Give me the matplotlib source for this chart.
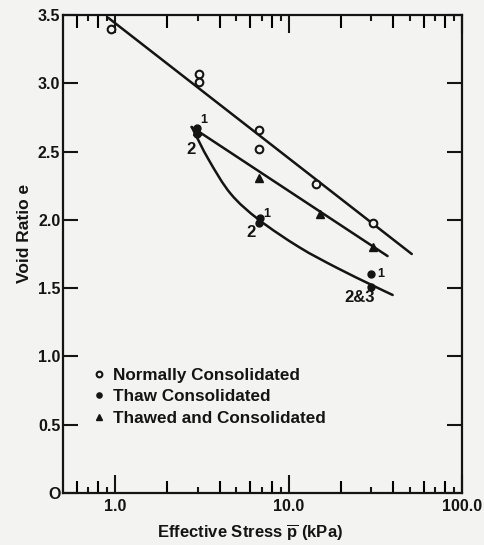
import matplotlib
matplotlib.use('Agg')
import matplotlib.pyplot as plt
import numpy as np
from matplotlib.path import Path
from matplotlib.patches import PathPatch

# values
# normally consolidated (open circles)
nc_stress = [0.95, 3.03, 3.03, 6.75, 6.75, 14.4, 30.5]
nc_void = [3.40, 3.07, 3.01, 2.66, 2.52, 2.26, 1.98]
# thaw consolidated (filled circles)
tc_stress = [2.95, 2.95, 6.8, 6.75, 29.7, 29.7]
tc_void = [2.67, 2.63, 2.01, 1.98, 1.60, 1.51]
tc_tags = ['1', '2', '1', '2', '1', '2&3']
# thawed and consolidated (triangles)
tac_stress = [2.95, 6.75, 15.2, 30.5]
tac_void = [2.65, 2.31, 2.04, 1.80]

# drawn trend lines
nc_line_x = [0.91, 51.3]
nc_line_y = [3.48, 1.75]
tac_line_x = [2.76, 37.2]
tac_line_y = [2.68, 1.735]
tc_curve_x = [2.76, 3.46, 4.64, 6.75, 11.5, 18.9, 30.5, 39.8]
tc_curve_y = [2.68, 2.44, 2.19, 2.00, 1.80, 1.65, 1.52, 1.45]

major_x = [1, 10, 100]
long_minor = [0.6, 0.8, 2, 4, 6, 8, 20, 40, 60, 80]
short_minor = [0.7, 0.9, 3, 5, 7, 9, 30, 50, 70, 90]
y_ticks = [0, 0.5, 1.0, 1.5, 2.0, 2.5, 3.0, 3.5]
y_labels = ['O', '0.5', '1.0', '1.5', '2.0', '2.5', '3.0', '3.5']

ink = '#141414'
paper = '#f3f3f1'
plt.rcParams['font.family'] = ['Liberation Sans', 'DejaVu Sans']
plt.rcParams['font.weight'] = 'bold'
plt.rcParams['mathtext.fontset'] = 'custom'
plt.rcParams['mathtext.bf'] = 'Liberation Sans:bold'
plt.rcParams['mathtext.rm'] = 'Liberation Sans:bold'


def smooth_path(xs, ys):
    # catmull-rom through the read points, done in log-x space, as bezier segments
    lx = np.log10(xs)
    y = np.asarray(ys, float)
    pts = np.column_stack([lx, y])
    pts = np.vstack([2 * pts[0] - pts[1], pts, 2 * pts[-1] - pts[-2]])
    verts = [pts[1]]
    codes = [Path.MOVETO]
    for i in range(1, len(pts) - 2):
        p0, p1, p2, p3 = pts[i - 1], pts[i], pts[i + 1], pts[i + 2]
        verts += [p1 + (p2 - p0) / 6, p2 - (p3 - p1) / 6, p2]
        codes += [Path.CURVE4] * 3
    verts = np.array(verts)
    verts[:, 0] = 10 ** verts[:, 0]
    return Path(verts, codes)


fig = plt.figure(figsize=(4.85, 5.45), dpi=100, facecolor=paper)
ax = fig.add_axes([0.130, 0.0954, 0.8226, 0.8771], facecolor=paper)
ax.set_xscale('log')
ax.set_xlim(0.5, 100)
ax.set_ylim(0, 3.5)

lw = 1.8
ax.plot(nc_line_x, nc_line_y, color=ink, lw=lw, solid_capstyle='round')
ax.plot(tac_line_x, tac_line_y, color=ink, lw=lw, solid_capstyle='round')
ax.add_patch(PathPatch(smooth_path(tc_curve_x, tc_curve_y), fc='none', ec=ink, lw=lw,
                       capstyle='round', joinstyle='round', transform=ax.transData))

ax.plot(nc_stress, nc_void, 'o', ms=5.5, mfc=paper, mec=ink, mew=1.5, ls='none',
        label='Normally Consolidated')
ax.plot(tc_stress, tc_void, 'o', ms=5, mfc=ink, mec=ink, ls='none',
        label='Thaw Consolidated')
ax.plot(tac_stress, tac_void, '^', ms=6, mfc=ink, mec=ink, ls='none',
        label='Thawed and Consolidated')

offsets = [(5, 6), (-4, -11), (5, 3), (-6, -7), (7, 0), (-8, -8)]
for x, y, t, off in zip(tc_stress, tc_void, tc_tags, offsets):
    fs = 9 if t == '1' else 12
    ax.annotate(t, (x, y), xytext=off, textcoords='offset points',
                ha='center', va='center', fontsize=fs, color=ink)

ax.set_xticks(major_x)
ax.set_xticklabels(['1.0', '10.0', '100.0'])
ax.set_xticks(long_minor, minor=True)
ax.set_xticklabels([], minor=True)
ax.set_yticks(y_ticks)
ax.set_yticklabels(y_labels)
ax.tick_params(axis='x', which='major', direction='in', top=True, length=13, width=1.5,
               pad=4, labelsize=11.5, colors=ink)
ax.tick_params(axis='x', which='minor', direction='in', top=True, length=9, width=1.5)
ax.tick_params(axis='y', direction='in', right=True, length=11, width=1.5, pad=2,
               labelsize=11.5, colors=ink)

for side in ['bottom', 'top']:
    sec = ax.secondary_xaxis(side)
    sec.set_xticks(short_minor)
    sec.set_xticklabels([])
    sec.set_xticks([], minor=True)
    sec.tick_params(direction='in', length=4, width=1.5, colors=ink)
    for s in sec.spines.values():
        s.set_visible(False)

for s in ax.spines.values():
    s.set_linewidth(1.6)
    s.set_color(ink)

ax.set_xlabel('Effective Stress $\\overline{\\mathbf{p}}$ (kPa)', fontsize=12,
              fontweight='bold', color=ink)
ax.xaxis.set_label_coords(0.469, -0.062)
ax.set_ylabel('Void Ratio e', fontsize=12.5, fontweight='bold', color=ink)
ax.yaxis.set_label_coords(-0.078, 0.544)

leg = ax.legend(loc='upper left', bbox_to_anchor=(0.078, 0.262), frameon=False,
                handlelength=0.6, handletextpad=0.5, borderpad=0, borderaxespad=0,
                labelspacing=0.38, markerscale=0.75, fontsize=12.3)
for t in leg.get_texts():
    t.set_color(ink)

fig.savefig('out.png', dpi=100, facecolor=paper)
